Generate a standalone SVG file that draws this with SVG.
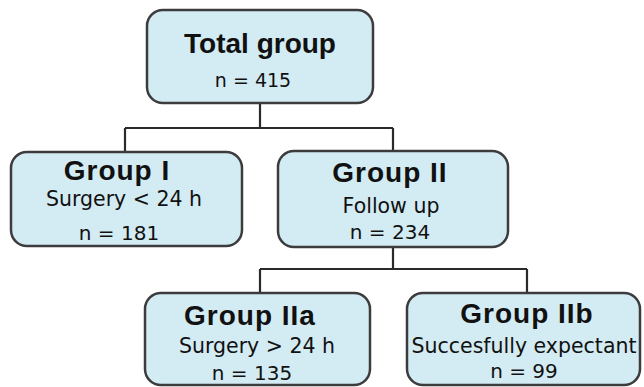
<svg xmlns="http://www.w3.org/2000/svg" width="644" height="387" viewBox="0 0 644 387">
<style>
.box{fill:#d3ebf3;stroke:#3c3c3c;stroke-width:2.5}
.ln{fill:none;stroke:#2a2a2a;stroke-width:2.2}
.t{font-family:"Liberation Sans",Arial,sans-serif;font-weight:bold;font-size:28px;letter-spacing:1px;fill:#111;text-anchor:middle}
.s{font-family:"DejaVu Sans",sans-serif;font-size:20.5px;fill:#111;text-anchor:middle}
.n{font-family:"DejaVu Sans",sans-serif;font-size:20px;fill:#111;text-anchor:middle}
</style>
<rect width="644" height="387" fill="#ffffff"/>
<g id="connectors">
<path class="ln" d="M260,103 V128 M125,128 H393 M125,128 V152 M393,128 V151 M393,247 V269 M260,269 H527 M260,269 V293 M527,269 V293"/>
</g>
<g id="total">
<rect class="box" x="147" y="10" width="226" height="93" rx="16"/>
<text class="t" x="260" y="53" style="letter-spacing:0">Total group</text>
<text class="n" x="253" y="87" style="font-size:19px">n = 415</text>
</g>
<g id="group1">
<rect class="box" x="11" y="152" width="231" height="94" rx="16"/>
<text class="t" x="117" y="180">Group I</text>
<text class="s" x="124" y="206">Surgery &lt; 24 h</text>
<text class="n" x="119" y="240">n = 181</text>
</g>
<g id="group2">
<rect class="box" x="278" y="151" width="230" height="96" rx="16"/>
<text class="t" x="390" y="182">Group II</text>
<text class="s" x="391" y="213">Follow up</text>
<text class="n" x="390" y="239">n = 234</text>
</g>
<g id="group2a">
<rect class="box" x="145" y="293" width="225" height="92" rx="16"/>
<text class="t" x="250" y="325">Group IIa</text>
<text class="s" x="257" y="353">Surgery &gt; 24 h</text>
<text class="n" x="252" y="380">n = 135</text>
</g>
<g id="group2b">
<rect class="box" x="407" y="293" width="233" height="92" rx="16"/>
<text class="t" x="527" y="323">Group IIb</text>
<text class="s" x="524" y="353">Succesfully expectant</text>
<text class="n" x="524" y="378">n = 99</text>
</g>
</svg>
